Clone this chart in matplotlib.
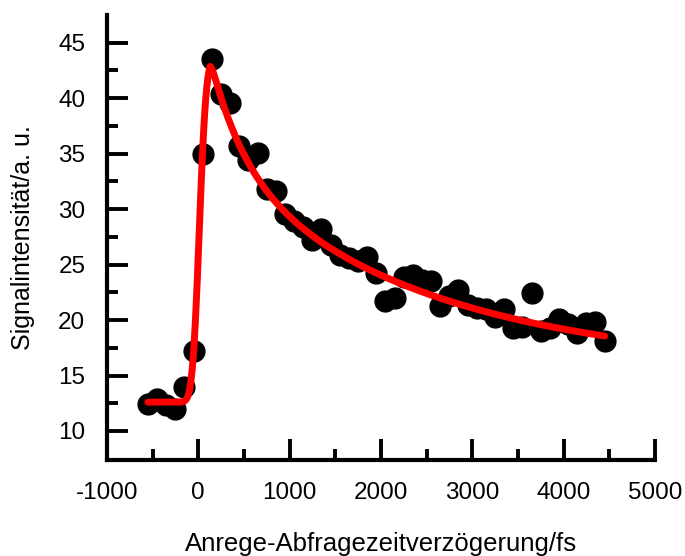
import numpy as np
import matplotlib
matplotlib.use("Agg")
import matplotlib.pyplot as plt
from matplotlib.ticker import MultipleLocator, FixedLocator
from math import erf

plt.rcParams['font.family'] = ['Liberation Sans', 'DejaVu Sans']
plt.rcParams['axes.unicode_minus'] = False

# pump-probe delay (fs) and measured signal (a. u.)
delay = [-550, -450, -350, -250, -150, -50, 50, 150, 250, 350,
         450, 550, 650, 750, 850, 950, 1050, 1150, 1250, 1350,
         1450, 1550, 1650, 1750, 1850, 1950, 2050, 2150, 2250, 2350,
         2450, 2550, 2650, 2750, 2850, 2950, 3050, 3150, 3250, 3350,
         3450, 3550, 3650, 3750, 3850, 3950, 4050, 4150, 4250, 4350,
         4450]
signal = [12.4, 12.9, 12.3, 12.0, 14.0, 17.2, 35.0, 43.5, 40.4, 39.6,
          35.7, 34.4, 35.1, 31.8, 31.6, 29.6, 28.9, 28.4, 27.2, 28.2,
          26.8, 25.9, 25.6, 25.3, 25.7, 24.2, 21.7, 22.0, 23.9, 24.1,
          23.6, 23.5, 21.3, 22.2, 22.7, 21.4, 21.1, 21.0, 20.3, 21.0,
          19.3, 19.4, 22.4, 19.0, 19.3, 20.1, 19.6, 18.8, 19.7, 19.8,
          18.1]

# fit parameters: baseline, rise (erf), bi-exponential decay with offset
fit_y0 = 12.6
fit_tc = 12.0
fit_w = 84.0
fit_t0 = 130.0
fit_a1, fit_tau1 = 9.4, 369.0
fit_a2, fit_tau2 = 18.6, 2350.0
fit_c = 3.0


def fit_model(t):
    rise = 0.5 * (1.0 + np.array([erf(v) for v in (t - fit_tc) / fit_w]))
    dt = np.clip(t - fit_t0, 0, None)
    decay = fit_a1 * np.exp(-dt / fit_tau1) + fit_a2 * np.exp(-dt / fit_tau2) + fit_c
    return fit_y0 + rise * decay


t_fit = np.linspace(delay[0], delay[-1], 800)
y_fit = fit_model(t_fit)

fig = plt.figure(figsize=(6.85, 5.56), dpi=100)
ax = fig.add_axes([0.156, 0.173, 0.80, 0.80])

ax.plot(delay, signal, 'o', color='black', markersize=15, zorder=2)
ax.plot(t_fit, y_fit, '-', color='#ff0000', linewidth=5, solid_capstyle='round', zorder=3)

ax.set_xlim(-1000, 5000)
ax.set_ylim(7.4, 47.5)
ax.xaxis.set_major_locator(MultipleLocator(1000))
ax.xaxis.set_minor_locator(MultipleLocator(500))
ax.yaxis.set_major_locator(FixedLocator([10, 15, 20, 25, 30, 35, 40, 45]))
ax.yaxis.set_minor_locator(FixedLocator([12.5, 17.5, 22.5, 27.5, 32.5, 37.5, 42.5]))

for side in ('top', 'right'):
    ax.spines[side].set_visible(False)
for side in ('left', 'bottom'):
    ax.spines[side].set_linewidth(3)

ax.tick_params(which='major', direction='in', length=15, width=2.8, labelsize=17.5, pad=15.5)
ax.tick_params(which='minor', direction='in', length=8, width=2.8)
ax.tick_params(axis='x', which='major', pad=16)

ax.set_xlabel('Anrege-Abfragezeitverzögerung/fs', fontsize=18.5, labelpad=20)
ax.set_ylabel('Signalintensität/a. u.', fontsize=18, labelpad=17)

fig.savefig('out.png', dpi=100)
